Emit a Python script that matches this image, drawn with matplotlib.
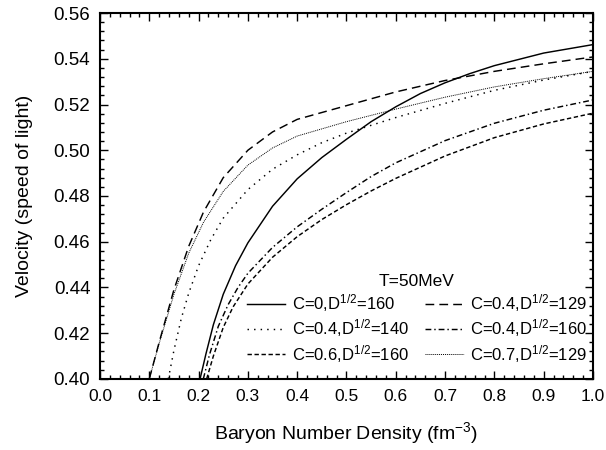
import matplotlib
matplotlib.use("Agg")
import matplotlib.pyplot as plt
from matplotlib.ticker import MultipleLocator

plt.rcParams['font.family'] = ['Liberation Sans', 'DejaVu Sans']
plt.rcParams['mathtext.fontset'] = 'custom'
plt.rcParams['mathtext.rm'] = 'Liberation Sans'
plt.rcParams['mathtext.it'] = 'Liberation Sans:italic'

# velocity vs baryon density, T = 50 MeV
x_c0_d160 = [0.203, 0.215, 0.23, 0.25, 0.275, 0.30, 0.35, 0.40, 0.45, 0.50, 0.55, 0.60, 0.65, 0.70, 0.75, 0.80, 0.90, 1.00]
v_c0_d160 = [0.400, 0.411, 0.4237, 0.437, 0.4495, 0.4595, 0.4755, 0.4875, 0.4968, 0.5048, 0.5125, 0.519, 0.5248, 0.5295, 0.5335, 0.537, 0.5425, 0.5462]

x_c04_d129 = [0.10, 0.12, 0.15, 0.18, 0.21, 0.25, 0.30, 0.35, 0.40, 0.50, 0.60, 0.70, 0.80, 0.90, 1.00]
v_c04_d129 = [0.400, 0.416, 0.439, 0.458, 0.473, 0.488, 0.500, 0.508, 0.5135, 0.5195, 0.5255, 0.5305, 0.5345, 0.5378, 0.5408]

x_c04_d140 = [0.1386, 0.15, 0.165, 0.18, 0.20, 0.225, 0.25, 0.30, 0.35, 0.40, 0.45, 0.50, 0.60, 0.70, 0.80, 0.90, 1.00]
v_c04_d140 = [0.400, 0.4125, 0.4265, 0.4375, 0.4495, 0.461, 0.4703, 0.4828, 0.4917, 0.498, 0.5033, 0.5075, 0.5143, 0.5205, 0.5262, 0.5307, 0.5345]

x_c04_d160 = [0.2096, 0.222, 0.24, 0.26, 0.28, 0.30, 0.35, 0.40, 0.45, 0.50, 0.55, 0.60, 0.70, 0.80, 0.90, 1.00]
v_c04_d160 = [0.400, 0.4105, 0.423, 0.4325, 0.440, 0.4462, 0.4575, 0.4665, 0.4742, 0.4815, 0.4885, 0.4945, 0.5042, 0.5118, 0.5175, 0.522]

x_c06_d160 = [0.2164, 0.23, 0.25, 0.27, 0.30, 0.35, 0.40, 0.45, 0.50, 0.55, 0.60, 0.70, 0.80, 0.90, 1.00]
v_c06_d160 = [0.400, 0.410, 0.4225, 0.4315, 0.4415, 0.4532, 0.4622, 0.4697, 0.4762, 0.4822, 0.4877, 0.4975, 0.5055, 0.5115, 0.5162]

x_c07_d129 = [0.10, 0.12, 0.15, 0.18, 0.21, 0.25, 0.30, 0.35, 0.40, 0.50, 0.60, 0.70, 0.80, 0.90, 1.00]
v_c07_d129 = [0.400, 0.4155, 0.437, 0.455, 0.4685, 0.482, 0.4935, 0.501, 0.5062, 0.5125, 0.518, 0.5232, 0.5277, 0.5313, 0.5345]

fig = plt.figure(figsize=(6.06, 4.5), dpi=100)
ax = fig.add_axes([0.165, 0.158, 0.8135, 0.813])

lw = 1.05
ax.plot(x_c0_d160, v_c0_d160, color='k', lw=lw, ls='-', label='C=0,D$^{1/2}$=160')
ax.plot(x_c04_d129, v_c04_d129, color='k', lw=lw, ls=(0, (6, 3.5)), label='C=0.4,D$^{1/2}$=129')
ax.plot(x_c04_d140, v_c04_d140, color='k', lw=lw, ls=(0, (1, 3.5)), label='C=0.4,D$^{1/2}$=140')
ax.plot(x_c04_d160, v_c04_d160, color='k', lw=lw, ls=(0, (4, 2, 1, 2)), label='C=0.4,D$^{1/2}$=160')
ax.plot(x_c06_d160, v_c06_d160, color='k', lw=lw, ls=(0, (3, 1.8)), label='C=0.6,D$^{1/2}$=160')
ax.plot(x_c07_d129, v_c07_d129, color='k', lw=0.7, ls=(0, (1, 1)), label='C=0.7,D$^{1/2}$=129')

ax.set_xlim(0.0, 1.0)
ax.set_ylim(0.40, 0.56)
ax.xaxis.set_major_locator(MultipleLocator(0.1))
ax.xaxis.set_minor_locator(MultipleLocator(0.02))
ax.yaxis.set_major_locator(MultipleLocator(0.02))
ax.yaxis.set_minor_locator(MultipleLocator(0.004))
ax.xaxis.set_major_formatter(plt.FormatStrFormatter('%.1f'))
ax.yaxis.set_major_formatter(plt.FormatStrFormatter('%.2f'))

ax.tick_params(which='both', direction='in', top=True, right=True, width=1.0)
ax.tick_params(axis='x', which='major', length=6, pad=7, labelsize=12.5)
ax.tick_params(axis='y', which='major', length=6, pad=7, labelsize=13.5)
ax.tick_params(which='minor', length=3)
for s in ax.spines.values():
    s.set_linewidth(1.5)

ax.set_xlabel('Baryon Number Density (fm$^{-3}$)', fontsize=14, labelpad=12)
ax.set_ylabel('Velocity (speed of light)', fontsize=14, labelpad=15)

# two-column legend with the temperature as title
handles, labels = ax.get_legend_handles_labels()
order = [0, 2, 4, 1, 3, 5]
leg = ax.legend([handles[i] for i in order], [labels[i] for i in order],
                ncol=2, frameon=False, title='T=50MeV', fontsize=12, title_fontsize=12.5,
                loc='center', bbox_to_anchor=(0.643, 0.163),
                handlelength=2.3, handletextpad=0.4, columnspacing=1.0,
                labelspacing=0.2, borderpad=0.2)

fig.savefig('out.png', dpi=100)
